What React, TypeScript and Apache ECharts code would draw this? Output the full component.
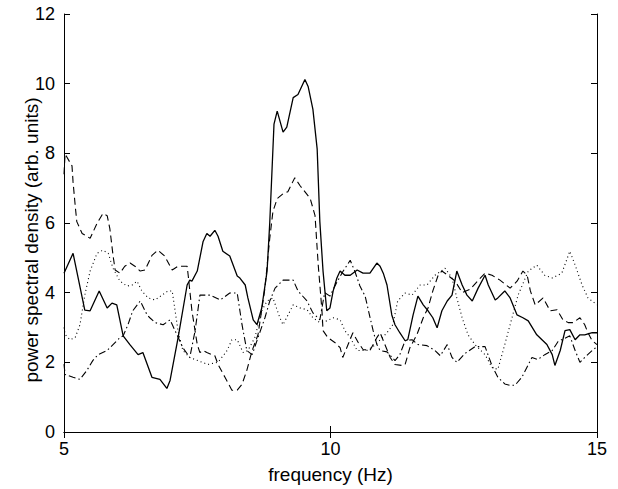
import React, { useEffect, useRef } from "react";
import * as echarts from "echarts";

// Frequency (Hz) and power spectral density values
const solidFreq = [5.00,5.17,5.39,5.49,5.66,5.81,5.90,5.99,6.11,6.24,6.39,6.48,6.65,6.80,6.93,6.99,7.14,7.31,7.36,7.40,7.50,7.61,7.68,7.74,7.83,7.89,7.98,8.11,8.25,8.30,8.40,8.45,8.55,8.62,8.71,8.81,8.86,8.94,9.00,9.11,9.18,9.30,9.39,9.52,9.58,9.67,9.75,9.80,9.86,9.93,9.99,10.05,10.12,10.18,10.27,10.37,10.50,10.61,10.74,10.87,10.93,10.99,11.06,11.15,11.21,11.30,11.40,11.45,11.55,11.64,11.74,11.83,11.92,12.00,12.09,12.19,12.28,12.37,12.47,12.56,12.66,12.77,12.90,12.96,13.09,13.14,13.27,13.37,13.50,13.61,13.71,13.87,14.06,14.16,14.21,14.31,14.40,14.49,14.59,14.68,14.77,14.91,15.00];
const solidPsd = [4.56,5.13,3.50,3.48,4.05,3.56,3.70,3.65,2.76,2.50,2.22,2.28,1.57,1.51,1.25,1.48,2.70,4.22,4.36,4.33,4.62,5.47,5.70,5.62,5.79,5.62,5.19,5.05,4.48,4.42,4.22,3.85,3.22,3.08,3.56,4.62,6.00,8.84,9.21,8.61,8.75,9.60,9.69,10.12,9.92,9.26,8.12,6.04,4.62,3.48,3.56,4.05,4.42,4.62,4.50,4.50,4.65,4.56,4.56,4.85,4.76,4.56,4.22,3.36,3.08,2.85,2.62,2.65,3.36,3.90,3.65,3.48,3.28,2.99,3.48,3.76,3.93,4.62,4.22,3.93,3.76,4.13,4.50,4.22,3.79,3.85,4.05,3.85,3.36,3.28,3.19,2.79,2.51,2.22,1.91,2.34,2.91,2.94,2.65,2.79,2.79,2.85,2.85];

const dashedFreq = [5.00,5.02,5.15,5.17,5.21,5.24,5.34,5.49,5.62,5.73,5.81,5.86,5.92,5.96,6.05,6.14,6.24,6.33,6.43,6.52,6.65,6.76,6.89,6.99,7.03,7.14,7.31,7.33,7.40,7.50,7.55,7.61,7.68,7.83,7.89,8.02,8.15,8.25,8.34,8.43,8.53,8.64,8.77,8.86,8.92,9.00,9.11,9.20,9.33,9.43,9.62,9.71,9.77,9.84,9.86,9.95,10.08,10.18,10.23,10.33,10.42,10.52,10.61,10.74,10.87,10.93,11.12,11.21,11.34,11.40,11.49,11.62,11.74,11.83,11.92,12.02,12.09,12.20,12.34,12.47,12.62,12.77,12.90,13.03,13.18,13.37,13.50,13.61,13.69,13.75,13.84,13.99,14.12,14.25,14.36,14.46,14.55,14.68,14.77,14.83,14.91,15.00];
const dashedPsd = [7.40,7.98,7.64,7.18,6.50,6.04,5.70,5.56,5.99,6.27,6.21,5.84,5.07,4.65,4.56,4.76,4.85,4.76,4.62,4.65,5.07,5.22,5.05,4.76,4.65,4.76,4.76,4.50,3.48,2.51,2.28,2.34,2.28,2.19,1.94,1.57,1.20,1.20,1.37,1.77,2.34,2.79,4.13,5.56,6.33,6.70,6.84,6.90,7.30,7.07,6.70,6.21,4.79,3.48,2.91,2.71,2.57,2.42,2.14,2.51,2.85,2.57,2.37,2.34,2.71,2.85,2.14,1.94,1.91,1.94,2.42,2.79,3.28,3.56,4.05,4.50,4.62,4.50,4.33,4.00,4.10,4.35,4.56,4.50,4.36,4.13,4.33,4.62,4.50,4.05,3.65,3.85,3.48,3.51,3.22,3.14,3.14,3.28,3.08,2.85,2.62,2.51];

const dottedFreq = [5.00,5.02,5.11,5.21,5.30,5.39,5.49,5.62,5.73,5.83,5.92,6.05,6.18,6.28,6.37,6.46,6.58,6.71,6.84,6.95,7.03,7.14,7.23,7.36,7.51,7.70,7.89,8.06,8.15,8.25,8.36,8.45,8.58,8.71,8.81,8.92,9.05,9.11,9.30,9.43,9.56,9.67,9.80,9.93,10.05,10.18,10.27,10.37,10.50,10.68,10.84,11.06,11.17,11.26,11.40,11.53,11.68,11.81,11.96,12.15,12.28,12.37,12.47,12.58,12.71,12.90,13.03,13.14,13.27,13.37,13.52,13.71,13.87,14.02,14.16,14.34,14.49,14.59,14.72,14.83,15.00];
const dottedPsd = [3.00,2.80,2.65,2.71,3.08,3.93,4.62,5.13,5.22,5.13,4.70,4.33,4.19,4.22,4.33,4.05,3.85,3.79,3.93,4.05,4.05,2.90,2.34,2.14,2.05,1.94,2.00,2.34,2.65,2.65,2.28,2.34,2.71,3.48,3.76,3.85,3.28,3.08,3.65,3.56,3.51,3.28,3.14,3.19,3.28,3.22,2.91,2.71,2.34,2.34,2.50,2.85,3.08,3.76,3.99,3.93,4.22,4.22,4.50,4.70,4.42,3.85,3.28,2.79,2.51,2.22,1.85,1.80,2.51,3.08,3.93,4.62,4.79,4.50,4.42,4.56,5.19,4.79,4.22,3.85,3.65];

const dashDotFreq = [5.00,5.02,5.17,5.30,5.43,5.54,5.64,5.81,5.92,6.05,6.11,6.20,6.29,6.43,6.56,6.61,6.71,6.86,6.99,7.12,7.23,7.36,7.46,7.55,7.74,7.93,8.11,8.25,8.34,8.43,8.53,8.64,8.77,8.86,8.96,9.11,9.30,9.39,9.56,9.67,9.80,9.89,9.99,10.12,10.23,10.37,10.46,10.55,10.65,10.74,10.80,10.87,10.93,11.06,11.21,11.30,11.40,11.53,11.64,11.81,11.96,12.06,12.19,12.28,12.37,12.52,12.71,12.90,13.03,13.14,13.27,13.37,13.46,13.59,13.78,13.89,14.02,14.16,14.27,14.49,14.59,14.68,14.77,14.91,15.00];
const dashDotPsd = [1.95,1.65,1.57,1.51,1.77,2.05,2.22,2.34,2.51,2.71,2.76,3.08,3.48,3.76,3.36,3.28,3.14,3.08,3.22,2.79,2.42,2.14,2.91,3.93,3.93,3.79,3.99,3.99,3.08,2.34,2.22,2.71,3.28,3.76,4.13,4.36,4.36,4.05,3.76,3.42,3.22,4.00,3.90,4.30,4.60,4.93,4.60,4.20,3.90,3.30,2.91,2.51,2.34,2.30,2.05,2.22,2.62,2.65,2.51,2.48,2.34,2.19,2.51,2.14,2.00,2.25,2.45,2.45,1.90,1.57,1.38,1.34,1.34,1.57,2.14,2.08,2.22,2.34,2.60,2.76,2.34,2.00,2.14,2.34,2.45];

const xTicks = { min: 5, max: 15, interval: 5 };
const yTicks = { min: 0, max: 12, interval: 2 };
const xTitle = "frequency (Hz)";
const yTitle = "power spectral density (arb. units)";

const zip = (xs: number[], ys: number[]) => xs.map((x, i) => [x, ys[i]]);

const FONT = "'Liberation Sans', Arial, Helvetica, sans-serif";

export default function App() {
  const ref = useRef<HTMLDivElement>(null);
  useEffect(() => {
    document.body.style.margin = "0";
    const chart = echarts.init(ref.current!, null, { renderer: "svg" });
    const axisLine = { show: true, lineStyle: { color: "#000", width: 1 } };
    const tickIn = { show: true, inside: true, length: 6, lineStyle: { color: "#000", width: 1 } };
    const lineSeries = (name: string, data: number[][], type: any, width = 1) => ({
      name,
      type: "line",
      data,
      symbol: "none",
      smooth: false,
      lineStyle: { color: "#000", width, type },
      xAxisIndex: 0,
      yAxisIndex: 0,
    });
    chart.setOption({
      animation: false,
      backgroundColor: "#fff",
      grid: { left: 64, top: 14, right: 21, bottom: 54, containLabel: false },
      graphic: [
        {
          type: "text",
          x: 31,
          y: 240,
          rotation: Math.PI / 2,
          style: {
            text: yTitle,
            fill: "#000",
            font: `19px ${FONT}`,
            align: "center",
            verticalAlign: "middle",
          },
        },
      ],
      xAxis: [
        {
          type: "value",
          ...xTicks,
          position: "bottom",
          axisLine,
          axisTick: tickIn,
          splitLine: { show: false },
          axisLabel: { color: "#000", fontSize: 18, fontFamily: FONT, margin: 8 },
          name: xTitle,
          nameLocation: "middle",
          nameGap: 33,
          nameMoveOverlap: false,
          nameTextStyle: { color: "#000", fontSize: 19, fontFamily: FONT },
        },
        {
          type: "value",
          ...xTicks,
          position: "top",
          axisLine,
          axisTick: tickIn,
          splitLine: { show: false },
          axisLabel: { show: false },
        },
      ],
      yAxis: [
        {
          type: "value",
          ...yTicks,
          position: "left",
          axisLine,
          axisTick: tickIn,
          splitLine: { show: false },
          axisLabel: { color: "#000", fontSize: 18, fontFamily: FONT, margin: 9 },
        },
        {
          type: "value",
          ...yTicks,
          position: "right",
          axisLine,
          axisTick: tickIn,
          splitLine: { show: false },
          axisLabel: { show: false },
        },
      ],
      series: [
        lineSeries("solid", zip(solidFreq, solidPsd), "solid", 1.3),
        lineSeries("dashed", zip(dashedFreq, dashedPsd), [7, 4], 1.1),
        lineSeries("dotted", zip(dottedFreq, dottedPsd), [1, 3], 1.1),
        lineSeries("dashdot", zip(dashDotFreq, dashDotPsd), [7, 3, 1.5, 3], 1.1),
      ],
    });
    return () => chart.dispose();
  }, []);
  return (
    <div
      ref={ref}
      style={{ position: "fixed", left: 0, top: 0, width: 618, height: 489, background: "#fff" }}
    />
  );
}
